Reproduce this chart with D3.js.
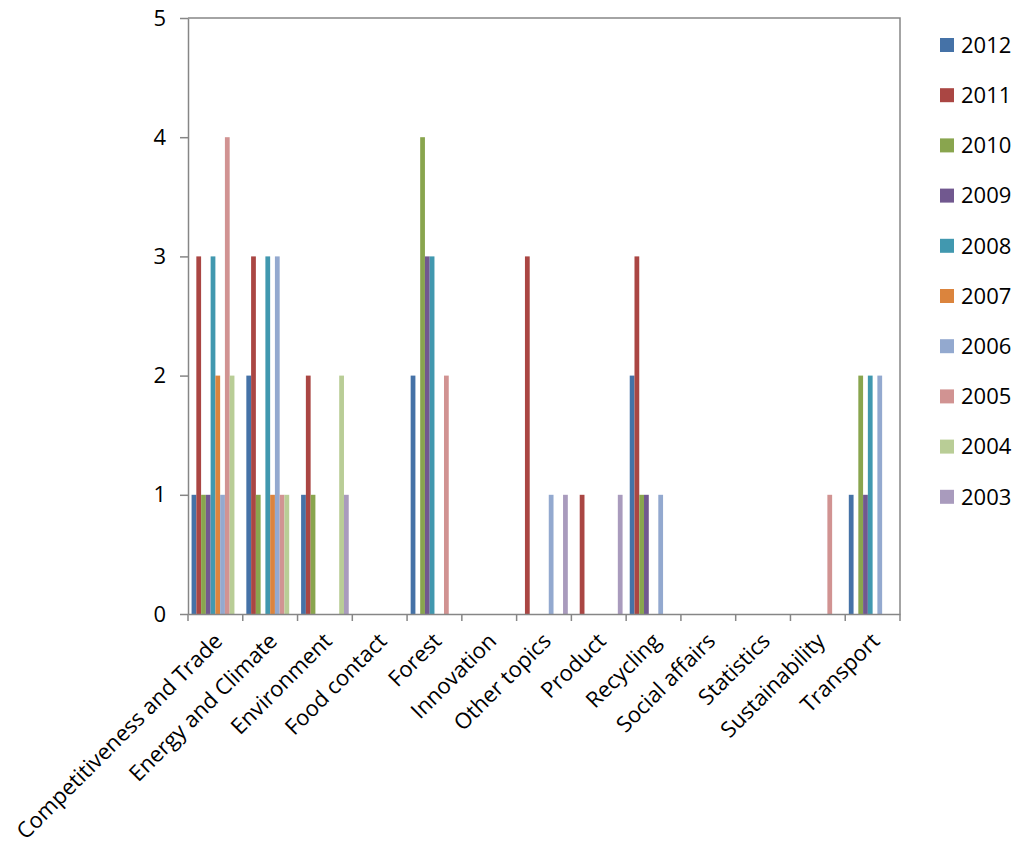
<!DOCTYPE html>
<html>
<head>
<meta charset="utf-8">
<script src="https://cdn.jsdelivr.net/npm/d3@7"></script>
<style>
body { margin: 0; background: #fff; }
text { font-family: "Open Sans", sans-serif; fill: #000; }
</style>
</head>
<body>
<div id="chart"></div>
<script>
var categories = ['Competitiveness and Trade', 'Energy and Climate', 'Environment', 'Food contact',
	'Forest', 'Innovation', 'Other topics', 'Product', 'Recycling', 'Social affairs',
	'Statistics', 'Sustainability', 'Transport'];

var years = ['2012', '2011', '2010', '2009', '2008', '2007', '2006', '2005', '2004', '2003'];

var colors = ['#4572A7', '#AA4643', '#89A54E', '#71588F', '#4198AF',
	'#DB843D', '#93A9CF', '#D19392', '#B9CD96', '#A99BBD'];

// one array per year, values in category order
var v2012 = [1, 2, 1, 0, 2, 0, 0, 0, 2, 0, 0, 0, 1];
var v2011 = [3, 3, 2, 0, 0, 0, 3, 1, 3, 0, 0, 0, 0];
var v2010 = [1, 1, 1, 0, 4, 0, 0, 0, 1, 0, 0, 0, 2];
var v2009 = [1, 0, 0, 0, 3, 0, 0, 0, 1, 0, 0, 0, 1];
var v2008 = [3, 3, 0, 0, 3, 0, 0, 0, 0, 0, 0, 0, 2];
var v2007 = [2, 1, 0, 0, 0, 0, 0, 0, 0, 0, 0, 0, 0];
var v2006 = [1, 3, 0, 0, 0, 0, 1, 0, 1, 0, 0, 0, 2];
var v2005 = [4, 1, 0, 0, 2, 0, 0, 0, 0, 0, 0, 1, 0];
var v2004 = [2, 1, 2, 0, 0, 0, 0, 0, 0, 0, 0, 0, 0];
var v2003 = [0, 0, 1, 0, 0, 0, 1, 1, 0, 0, 0, 0, 0];

var yTicks = [0, 1, 2, 3, 4, 5];

var series = [v2012, v2011, v2010, v2009, v2008, v2007, v2006, v2005, v2004, v2003];

var W = 1024, H = 853;
var pLeft = 188, pRight = 900, pTop = 18, pBottom = 614;
var axisColor = '#868686';

var svg = d3.select('#chart').append('svg')
	.attr('width', W)
	.attr('height', H);

var x = d3.scaleBand().domain(categories).range([pLeft, pRight]);
var xi = d3.scaleBand().domain(years).range([0, x.bandwidth()]).paddingOuter(0.75);
var y = d3.scaleLinear().domain([0, 5]).range([pBottom, pTop]);
var color = d3.scaleOrdinal().domain(years).range(colors);

// plot border (top and right)
svg.append('path')
	.attr('d', 'M' + pLeft + ',' + pTop + 'H' + pRight + 'V' + pBottom)
	.attr('fill', 'none')
	.attr('stroke', axisColor)
	.attr('stroke-width', 1.5);

// bars
var cells = [];
years.forEach(function(yr, s) {
	categories.forEach(function(c, i) {
		if (series[s][i] > 0) {
			cells.push({cat: c, year: yr, value: series[s][i]});
		}
	});
});

svg.append('g').selectAll('rect')
	.data(cells)
	.enter()
	.append('rect')
	.attr('x', function(d) { return x(d.cat) + xi(d.year); })
	.attr('y', function(d) { return y(d.value); })
	.attr('width', xi.bandwidth())
	.attr('height', function(d) { return y(0) - y(d.value); })
	.attr('fill', function(d) { return color(d.year); });

// y axis
var yAxis = svg.append('g')
	.attr('transform', 'translate(' + pLeft + ',0)')
	.call(d3.axisLeft(y).tickValues(yTicks).tickSize(8).tickSizeOuter(0).tickPadding(14).tickFormat(d3.format('d')));
yAxis.selectAll('text').style('font-size', '22px');

// x axis
var xAxis = svg.append('g')
	.attr('transform', 'translate(0,' + pBottom + ')')
	.call(d3.axisBottom(x).tickValues([]).tickSizeOuter(0));
xAxis.selectAll('.tick-mark')
	.data(d3.range(categories.length + 1))
	.enter()
	.append('line')
	.attr('class', 'tick-mark')
	.attr('x1', function(i) { return pLeft + i * x.step(); })
	.attr('x2', function(i) { return pLeft + i * x.step(); })
	.attr('y1', 0)
	.attr('y2', 7);

svg.selectAll('.domain, .tick line, .tick-mark')
	.attr('stroke', axisColor)
	.attr('stroke-width', 1.5);

svg.append('g').selectAll('text')
	.data(categories)
	.enter()
	.append('text')
	.attr('transform', function(d) {
		return 'translate(' + (x(d) + x.bandwidth() / 2 + 3) + ',' + (pBottom + 23) + ') rotate(-45)';
	})
	.attr('text-anchor', 'end')
	.attr('dy', '0.35em')
	.style('font-size', '22px')
	.text(function(d) { return d; });

// legend
var legend = svg.append('g').selectAll('g')
	.data(years)
	.enter()
	.append('g')
	.attr('transform', function(d, i) { return 'translate(940,' + (45 + i * 50.2) + ')'; });

legend.append('rect')
	.attr('x', 0)
	.attr('y', -7)
	.attr('width', 14)
	.attr('height', 14)
	.attr('fill', function(d) { return color(d); });

legend.append('text')
	.attr('x', 21)
	.attr('dy', '0.35em')
	.style('font-size', '22px')
	.text(function(d) { return d; });
</script>
</body>
</html>
